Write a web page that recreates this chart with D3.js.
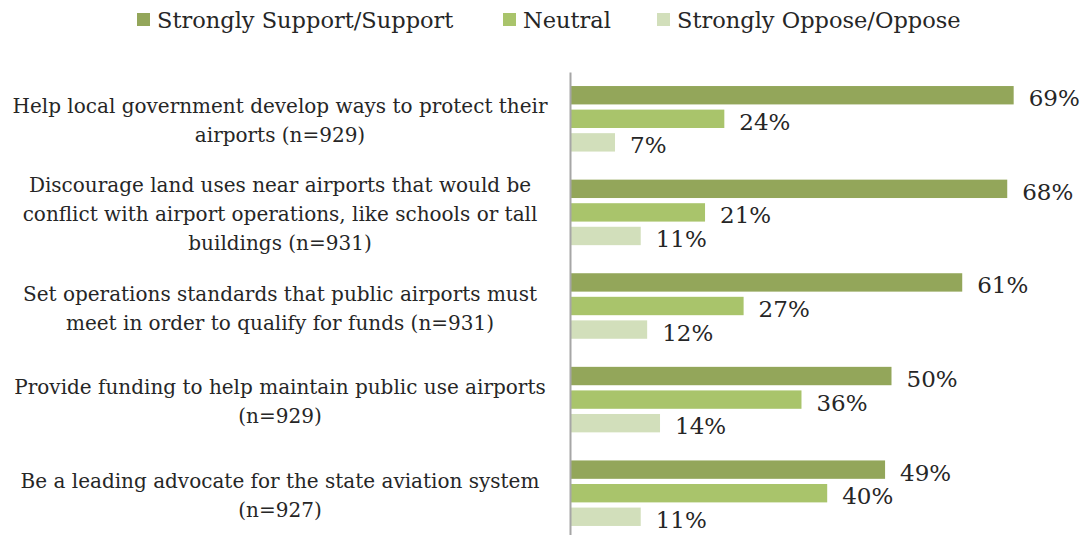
<!DOCTYPE html>
<html>
<head>
<meta charset="utf-8">
<script src="https://cdn.jsdelivr.net/npm/d3@7"></script>
<style>
  html, body { margin: 0; padding: 0; background: #fff; }
  svg { display: block; }
  text { font-family: "DejaVu Serif", "Liberation Serif", serif; fill: #262626; }
</style>
</head>
<body>
<svg id="chart" width="1088" height="535"></svg>
<script>
// Survey statements (each line of a wrapped label is one entry)
const categories = [
  ["Help local government develop ways to protect their", "airports (n=929)"],
  ["Discourage land uses near airports that would be", "conflict with airport operations, like schools or tall", "buildings (n=931)"],
  ["Set operations standards that public airports must", "meet in order to qualify for funds (n=931)"],
  ["Provide funding to help maintain public use airports", "(n=929)"],
  ["Be a leading advocate for the state aviation system", "(n=927)"]
];
const seriesNames = ["Strongly Support/Support", "Neutral", "Strongly Oppose/Oppose"];
const supportValues = [69, 68, 61, 50, 49];
const neutralValues = [24, 21, 27, 36, 40];
const opposeValues  = [7, 11, 12, 14, 11];
const seriesColors = ["#93a65a", "#a9c46b", "#d2dfbb"];

const seriesValues = [supportValues, neutralValues, opposeValues];
const rows = categories.map((c, i) => ({
  key: i,
  lines: c,
  values: seriesValues.map((vals, s) => ({ s, v: vals[i] }))
}));

const svg = d3.select("#chart");

const axisX = 570;
const x = d3.scaleLinear().domain([0, 100]).range([axisX, axisX + 643]);
const y0 = d3.scaleBand().domain(rows.map(r => r.key)).range([72, 540]).paddingInner(0.3).paddingOuter(0.15);
const y1 = d3.scaleBand().domain([0, 1, 2]).range([0, y0.bandwidth()]).paddingInner(0.22);

// Bars
const groups = svg.append("g").selectAll("g")
  .data(rows).join("g")
  .attr("transform", d => `translate(0,${y0(d.key)})`);

groups.selectAll("rect")
  .data(d => d.values).join("rect")
  .attr("x", x(0))
  .attr("y", d => y1(d.s))
  .attr("width", d => x(d.v) - x(0))
  .attr("height", y1.bandwidth())
  .attr("fill", d => seriesColors[d.s]);

// Value labels
groups.selectAll("text.val")
  .data(d => d.values).join("text")
  .attr("class", "val")
  .attr("x", d => x(d.v) + 15)
  .attr("y", d => y1(d.s) + y1.bandwidth() / 2 + 3)
  .attr("dominant-baseline", "central")
  .style("font-size", "23px")
  .text(d => d.v + "%");

// Vertical category axis line
const axis = d3.axisLeft(y0).tickSize(0).tickSizeOuter(0).tickFormat("");
svg.append("g").attr("transform", `translate(${axisX},0)`).call(axis)
  .call(g => g.select(".domain").attr("stroke", "#a6a6a6").attr("stroke-width", 2));

// Category labels, centred and wrapped
const lineH = 29;
svg.append("g").selectAll("text")
  .data(rows).join("text")
  .attr("text-anchor", "middle")
  .style("font-size", "20px")
  .each(function(d) {
    const cy = y0(d.key) + y0.bandwidth() / 2 + 2;
    const n = d.lines.length;
    d3.select(this).selectAll("tspan")
      .data(d.lines).join("tspan")
      .attr("x", 280)
      .attr("y", (l, i) => cy + (i - (n - 1) / 2) * lineH)
      .attr("dominant-baseline", "central")
      .text(l => l);
  });

// Legend
const legendX = [137, 503, 657];
const legend = svg.append("g").selectAll("g")
  .data(seriesNames).join("g")
  .attr("transform", (d, i) => `translate(${legendX[i]},13)`);
legend.append("rect")
  .attr("width", 13).attr("height", 13)
  .attr("fill", (d, i) => seriesColors[i]);
legend.append("text")
  .attr("x", 20).attr("y", 7)
  .attr("dominant-baseline", "central")
  .style("font-size", "22.5px")
  .text(d => d);
</script>
</body>
</html>
